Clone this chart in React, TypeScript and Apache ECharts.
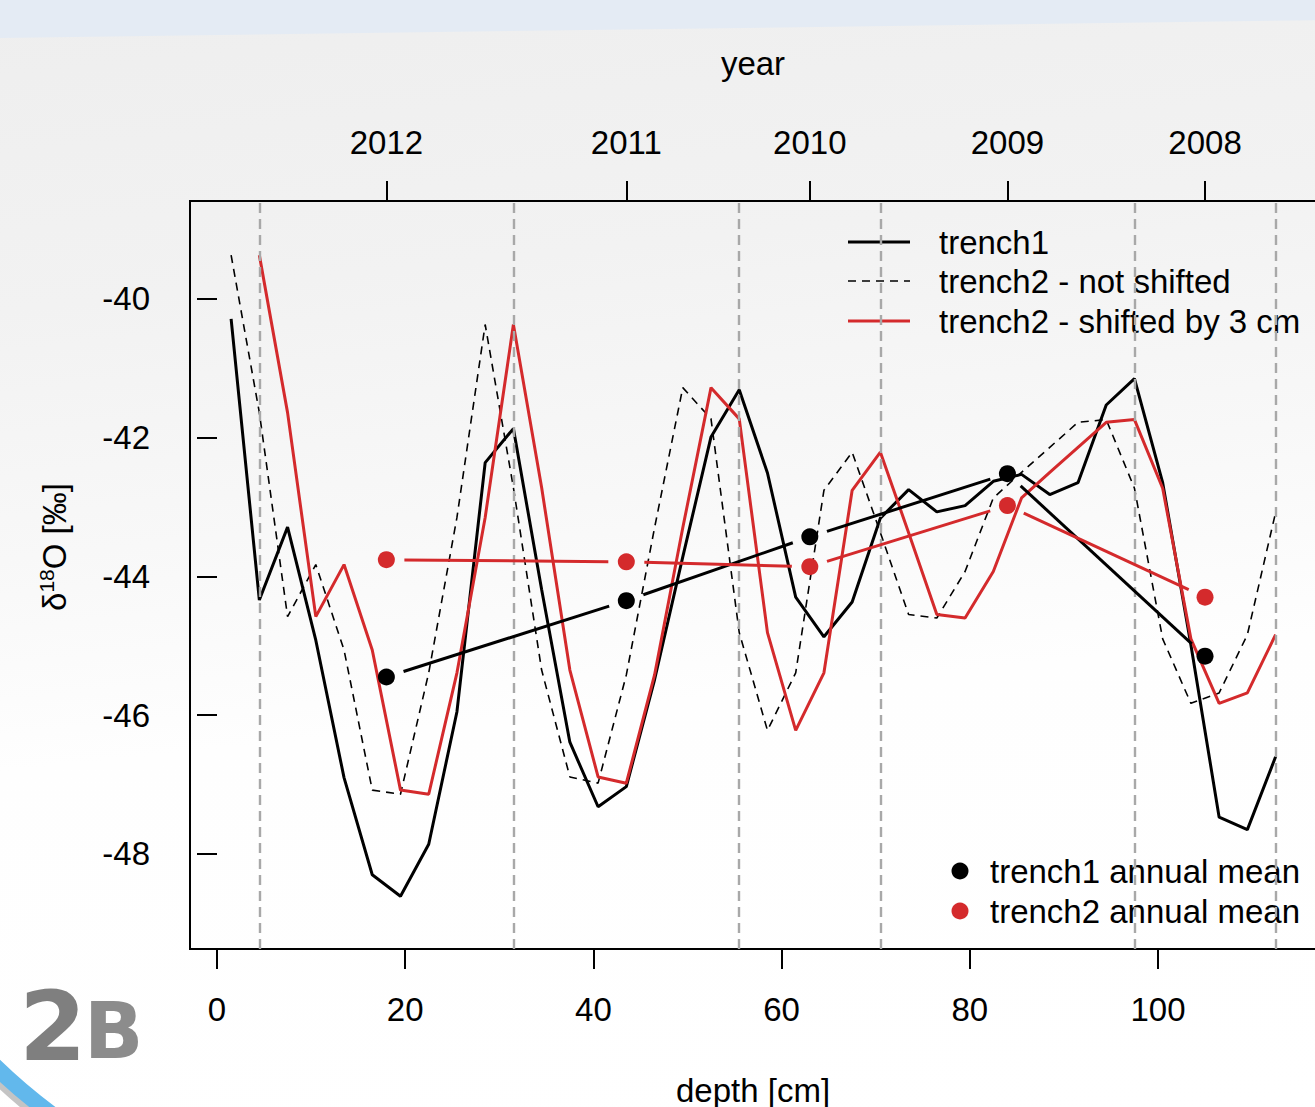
import React, { useEffect, useRef } from "react";
import * as echarts from "echarts";

// depth of each sample [cm]
const depth = [1.5, 4.5, 7.5, 10.5, 13.5, 16.5, 19.5, 22.5, 25.5, 28.5, 31.5, 34.5, 37.5, 40.5, 43.5, 46.5, 49.5, 52.5, 55.5, 58.5, 61.5, 64.5, 67.5, 70.5, 73.5, 76.5, 79.5, 82.5, 85.5, 88.5, 91.5, 94.5, 97.5, 100.5, 103.5, 106.5, 109.5, 112.5];

const trench1 = [-40.29, -44.34, -43.29, -44.92, -46.9, -48.3, -48.61, -47.86, -45.95, -42.36, -41.87, -44.19, -46.39, -47.32, -47.03, -45.49, -43.72, -41.99, -41.31, -42.51, -44.3, -44.87, -44.37, -43.16, -42.75, -43.07, -42.98, -42.63, -42.53, -42.82, -42.65, -41.53, -41.15, -42.65, -44.99, -47.47, -47.65, -46.6];

const trench2 = [-39.37, -41.64, -44.58, -43.83, -45.06, -47.08, -47.14, -45.39, -43.15, -40.37, -42.72, -45.35, -46.89, -46.98, -45.42, -43.3, -41.28, -41.73, -44.81, -46.22, -45.39, -42.76, -42.21, -43.37, -44.55, -44.6, -43.93, -42.87, -42.5, -42.14, -41.78, -41.74, -42.73, -44.9, -45.83, -45.68, -44.84, -43.08];

const SHIFT_CM = 3;

const yearLabels = ["2012", "2011", "2010", "2009", "2008"];
const yearMid = [18, 43.5, 63, 84, 105];
const mean1 = [-45.45, -44.35, -43.43, -42.52, -45.15];
const mean2 = [-43.76, -43.79, -43.86, -42.98, -44.3];
const yearBounds = [4.5, 31.5, 55.5, 70.5, 97.5, 112.5];

const xTicks = [0, 20, 40, 60, 80, 100];
const yTicks = [-48, -46, -44, -42, -40];

const RED = "#d42a2c";
const FONT = "'Liberation Sans', Arial, Helvetica, sans-serif";
const FS = 33;

export default function App() {
  const ref = useRef<HTMLDivElement>(null);
  useEffect(() => {
    if (!ref.current) return;
    const chart = echarts.init(ref.current, null, { renderer: "svg" });

    const maxDepth = depth[depth.length - 1];
    const s1 = depth.map((d, i) => [d, trench1[i]]);
    const s2 = depth.map((d, i) => [d, trench2[i]]);
    const s2shift = depth
      .map((d, i) => [d + SHIFT_CM, trench2[i]])
      .filter((p) => p[0] <= maxDepth);

    const segs = (m: number[]) =>
      yearMid.slice(0, -1).map((x, i) => [x, m[i], yearMid[i + 1], m[i + 1]]);

    const GAP = 18;
    const gapRender = (color: string) => (params: any, api: any) => {
      const a = api.coord([api.value(0), api.value(1)]);
      const b = api.coord([api.value(2), api.value(3)]);
      const dx = b[0] - a[0];
      const dy = b[1] - a[1];
      const len = Math.hypot(dx, dy) || 1;
      const ux = dx / len;
      const uy = dy / len;
      return {
        type: "line",
        shape: {
          x1: a[0] + ux * GAP,
          y1: a[1] + uy * GAP,
          x2: b[0] - ux * GAP,
          y2: b[1] - uy * GAP,
        },
        style: { stroke: color, lineWidth: 3 },
      };
    };

    const axisCommon = {
      min: -2.869,
      max: 116.9,
      type: "value",
      axisLine: { show: false },
      splitLine: { show: false },
    };

    const txt = (x: number, y: number, text: string, extra: any = {}) => ({
      type: "text",
      silent: true,
      x,
      y,
      style: { text, fontSize: FS, fontFamily: FONT, fill: "#000", verticalAlign: "middle", ...extra },
    });

    chart.setOption({
      animation: false,
      backgroundColor: "transparent",
      textStyle: { fontFamily: FONT },
      grid: {
        left: 190,
        top: 201,
        width: 1127,
        height: 748,
        show: true,
        borderColor: "#000",
        borderWidth: 2,
        backgroundColor: "transparent",
      },
      xAxis: [
        {
          ...axisCommon,
          position: "bottom",
          axisTick: {
            show: true,
            length: 20,
            customValues: xTicks,
            lineStyle: { color: "#000", width: 2 },
          },
          axisLabel: {
            customValues: xTicks,
            margin: 44,
            fontSize: FS,
            color: "#000",
            fontFamily: FONT,
          },
        },
        {
          ...axisCommon,
          position: "top",
          axisTick: {
            show: true,
            length: 20,
            customValues: yearMid,
            lineStyle: { color: "#000", width: 2 },
          },
          axisLabel: {
            customValues: yearMid,
            margin: 42,
            fontSize: FS,
            color: "#000",
            fontFamily: FONT,
            formatter: (v: number) => {
              const i = yearMid.findIndex((m) => Math.abs(m - v) < 1e-6);
              return i >= 0 ? yearLabels[i] : "";
            },
          },
        },
      ],
      yAxis: {
        type: "value",
        min: -49.37,
        max: -38.59,
        axisLine: { show: false },
        splitLine: { show: false },
        axisTick: {
          show: true,
          length: 20,
          customValues: yTicks,
          lineStyle: { color: "#000", width: 2 },
        },
        axisLabel: {
          customValues: yTicks,
          margin: 40,
          fontSize: FS,
          color: "#000",
          fontFamily: FONT,
          formatter: (v: number) => String(v),
        },
      },
      series: [
        {
          type: "line",
          data: [],
          z: 1,
          silent: true,
          markLine: {
            symbol: "none",
            silent: true,
            label: { show: false },
            lineStyle: { color: "#a8a8a8", type: [10, 6], width: 2.4 },
            data: yearBounds.map((b) => ({ xAxis: b })),
          },
        },
        {
          name: "trench2 - not shifted",
          type: "line",
          data: s2,
          showSymbol: false,
          z: 2,
          lineStyle: { color: "#000", width: 1.6, type: [8, 6] },
        },
        {
          name: "trench1",
          type: "line",
          data: s1,
          showSymbol: false,
          z: 3,
          lineStyle: { color: "#000", width: 3 },
        },
        {
          name: "trench2 - shifted by 3 cm",
          type: "line",
          data: s2shift,
          showSymbol: false,
          z: 4,
          lineStyle: { color: RED, width: 3 },
        },
        {
          type: "custom",
          z: 5,
          data: segs(mean1),
          encode: { x: [0, 2], y: [1, 3] },
          renderItem: gapRender("#000"),
        },
        {
          type: "custom",
          z: 5,
          data: segs(mean2),
          encode: { x: [0, 2], y: [1, 3] },
          renderItem: gapRender(RED),
        },
        {
          name: "trench1 annual mean",
          type: "scatter",
          z: 6,
          symbolSize: 17,
          itemStyle: { color: "#000", opacity: 1 },
          data: yearMid.map((x, i) => [x, mean1[i]]),
        },
        {
          name: "trench2 annual mean",
          type: "scatter",
          z: 6,
          symbolSize: 17,
          itemStyle: { color: RED, opacity: 1 },
          data: yearMid.map((x, i) => [x, mean2[i]]),
        },
      ],
      graphic: [
        {
          type: "polygon",
          silent: true,
          z: -10,
          shape: { points: [[0, 0], [1330, 0], [1330, 20], [0, 38]] },
          style: { fill: "#e4ebf4" },
        },
        {
          type: "arc",
          silent: true,
          z: -9,
          shape: { cx: 393, cy: 664, r: 572, startAngle: 2.05, endAngle: 2.5 },
          style: { stroke: "#c4c4c4", lineWidth: 14, fill: "none" },
        },
        {
          type: "arc",
          silent: true,
          z: -8,
          shape: { cx: 388, cy: 660, r: 565, startAngle: 2.05, endAngle: 2.5 },
          style: { stroke: "#62b8ec", lineWidth: 16, fill: "none" },
        },
        {
          type: "text",
          silent: true,
          x: 19,
          y: 1075,
          style: {
            text: "2",
            fontSize: 97,
            fontWeight: "bold",
            fontFamily: "'DejaVu Sans', sans-serif",
            fill: "#7f7f7f",
            verticalAlign: "bottom",
          },
        },
        {
          type: "text",
          silent: true,
          x: 84,
          y: 1070,
          style: {
            text: "B",
            fontSize: 78,
            fontWeight: "bold",
            fontFamily: "'DejaVu Sans', sans-serif",
            fill: "#8c8c8c",
            verticalAlign: "bottom",
          },
        },
        txt(753, 63, "year", { align: "center" }),
        txt(753, 1090, "depth [cm]", { align: "center" }),
        {
          type: "text",
          silent: true,
          x: 54,
          y: 547,
          rotation: Math.PI / 2,
          style: {
            text: "{d|δ}{s|18}{d|O [‰]}",
            align: "center",
            verticalAlign: "middle",
            fill: "#000",
            rich: {
              d: { fontSize: FS, lineHeight: 36, fontFamily: FONT, fill: "#000" },
              s: { fontSize: 21, lineHeight: 20, verticalAlign: "top", fontFamily: FONT, fill: "#000" },
            },
          },
        },
        // legend top right
        { type: "line", silent: true, shape: { x1: 848, y1: 242, x2: 910, y2: 242 }, style: { stroke: "#000", lineWidth: 3 } },
        { type: "line", silent: true, shape: { x1: 848, y1: 281, x2: 910, y2: 281 }, style: { stroke: "#000", lineWidth: 1.6, lineDash: [8, 6] } },
        { type: "line", silent: true, shape: { x1: 848, y1: 321, x2: 910, y2: 321 }, style: { stroke: RED, lineWidth: 3 } },
        txt(939, 242, "trench1"),
        txt(939, 281, "trench2 - not shifted"),
        txt(939, 321, "trench2 - shifted by 3 cm"),
        // legend bottom right
        { type: "circle", silent: true, shape: { cx: 960, cy: 871, r: 8.5 }, style: { fill: "#000" } },
        { type: "circle", silent: true, shape: { cx: 960, cy: 911, r: 8.5 }, style: { fill: RED } },
        txt(990, 871, "trench1 annual mean"),
        txt(990, 911, "trench2 annual mean"),
      ],
    });
    return () => chart.dispose();
  }, []);

  return (
    <div
      style={{
        position: "fixed",
        left: 0,
        top: 0,
        width: 1315,
        height: 1107,
        overflow: "hidden",
        background:
          "linear-gradient(174deg, #eeeeee 0%, #f2f2f2 25%, #f8f8f8 45%, #fefefe 62%, #ffffff 100%)",
      }}
    >
      <div ref={ref} style={{ width: 1330, height: 1107 }} />
    </div>
  );
}
